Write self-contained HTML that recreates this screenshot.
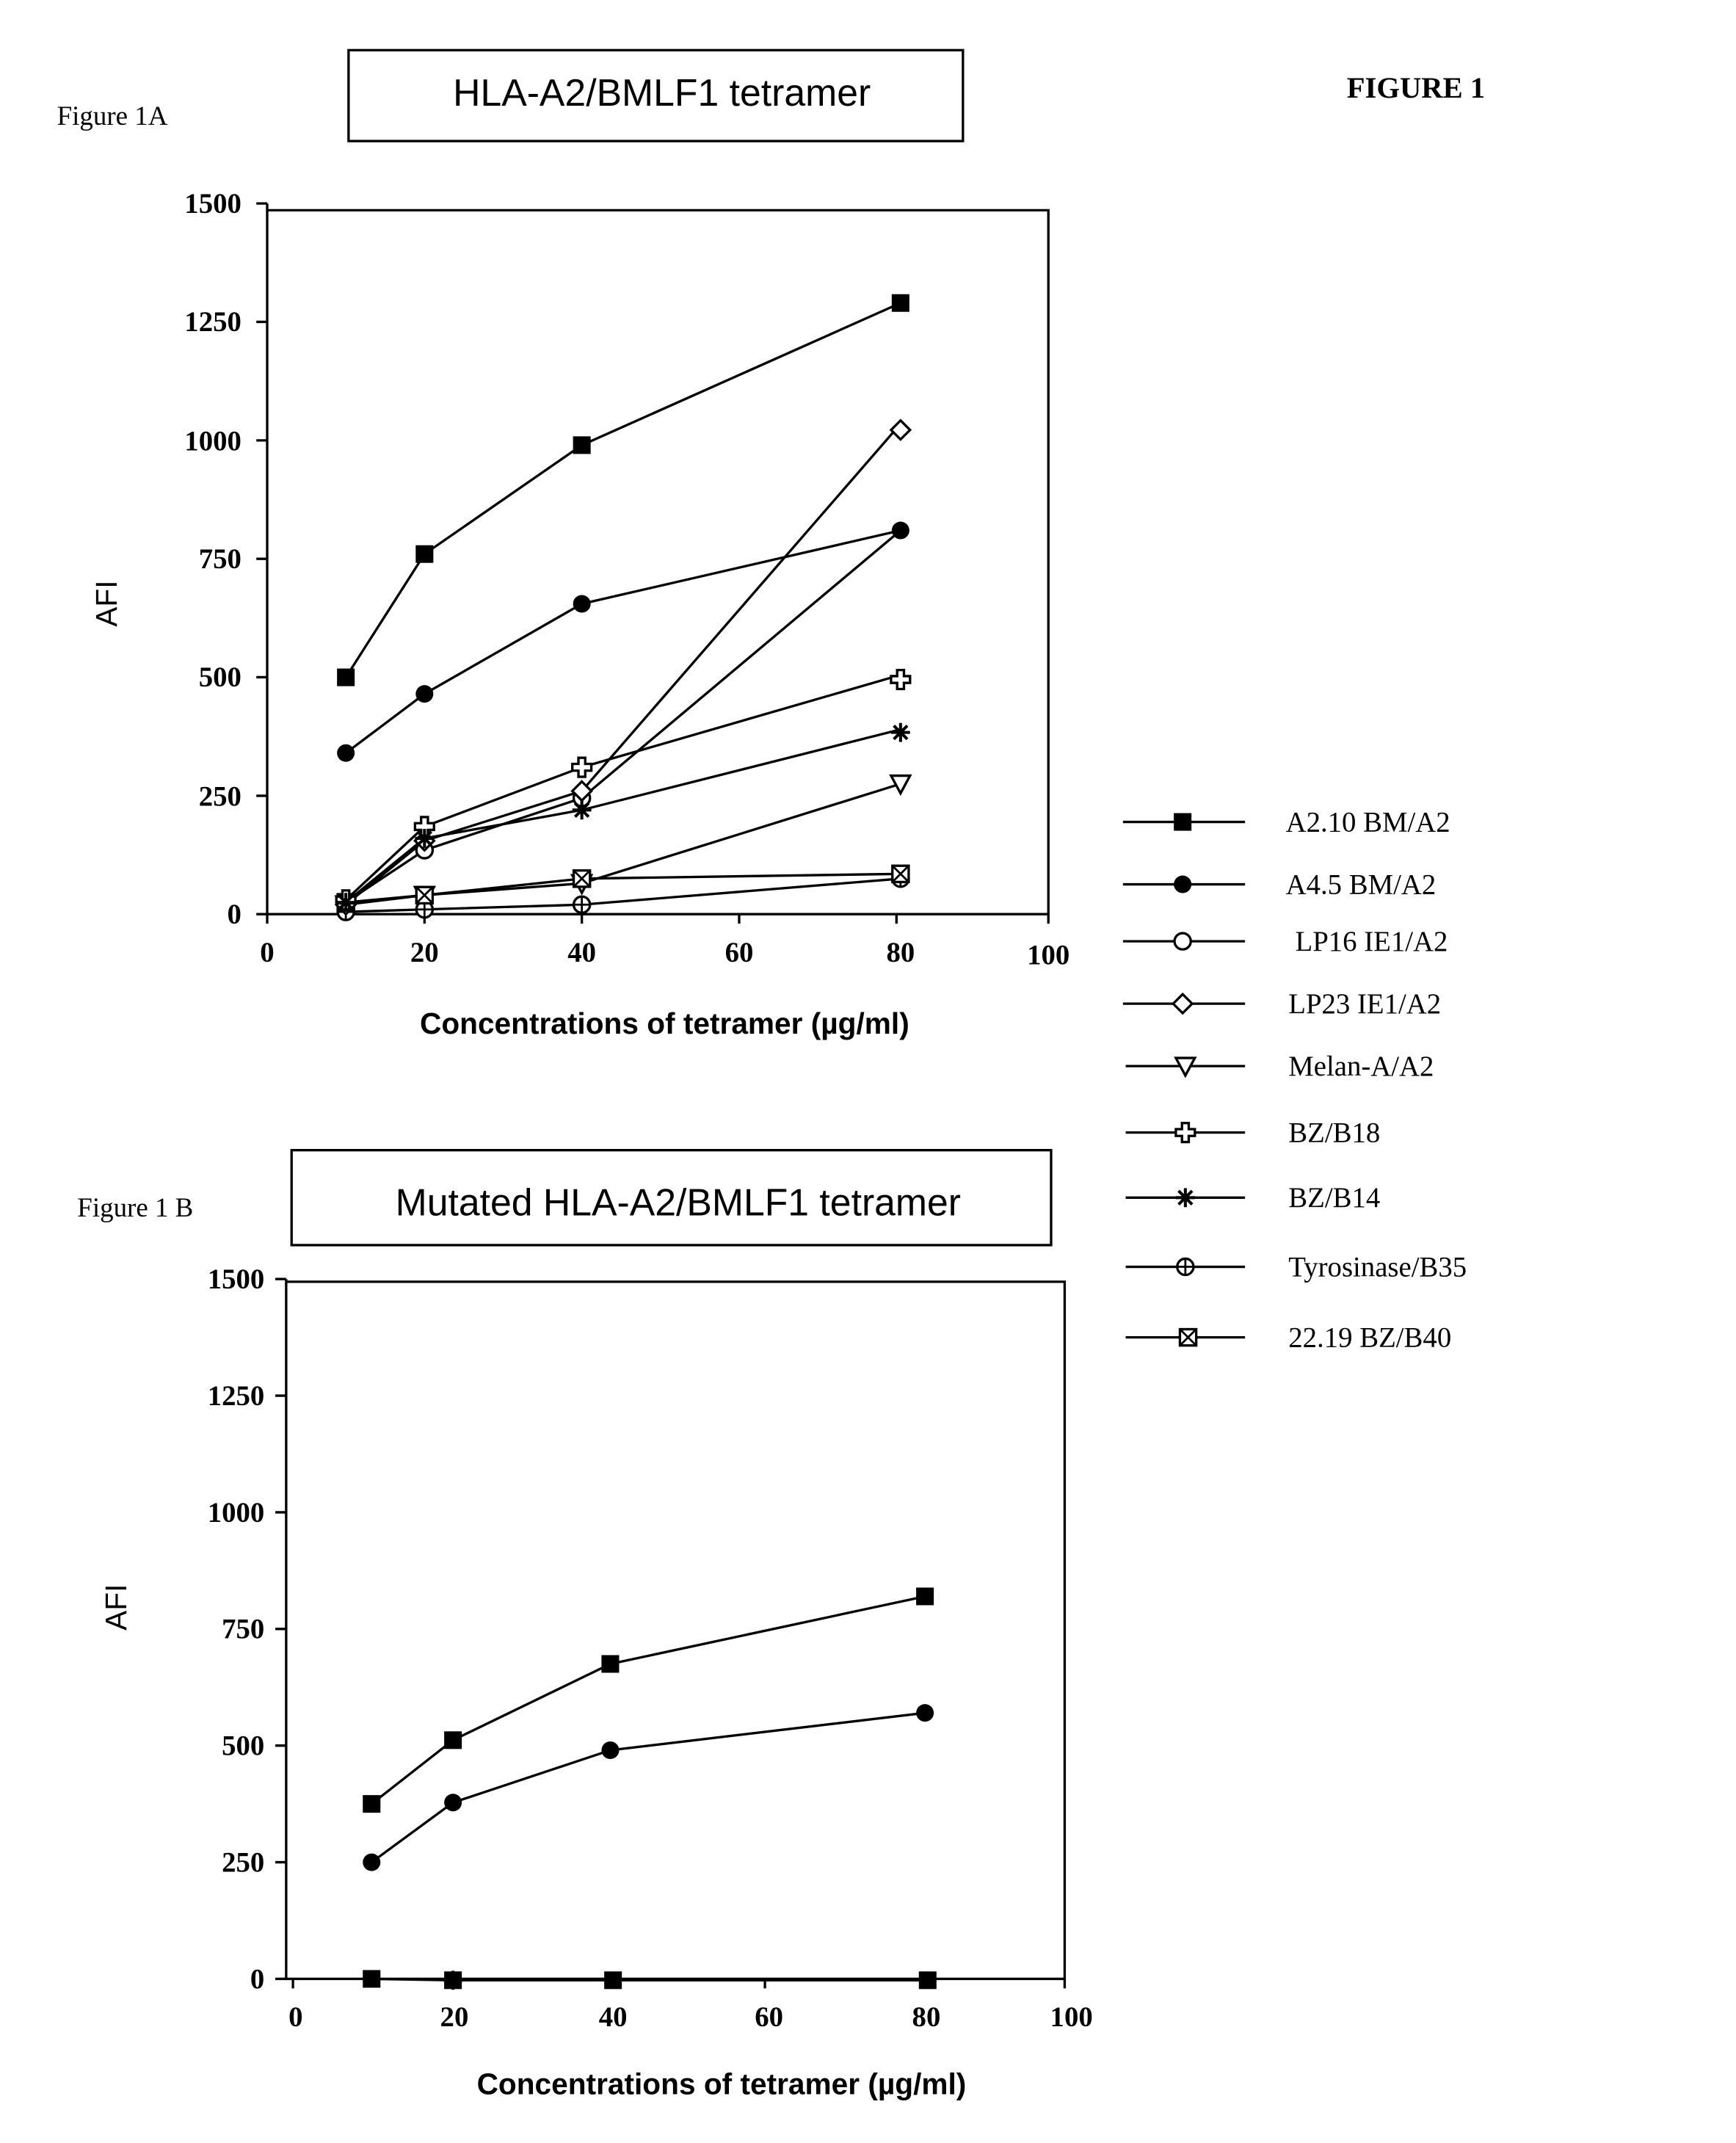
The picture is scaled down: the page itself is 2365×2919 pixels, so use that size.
<!DOCTYPE html>
<html><head><meta charset="utf-8"><style>html,body{margin:0;padding:0;background:#fff}svg{display:block}</style></head>
<body>
<svg width="2365" height="2919" viewBox="0 0 1280 1580" preserveAspectRatio="none" xmlns="http://www.w3.org/2000/svg">
<defs>
<g id="sq"><rect x="-6.5" y="-6.5" width="13" height="13" fill="#000"/></g>
<g id="ci"><circle r="6.5" fill="#000"/></g>
<g id="oc"><circle r="6" fill="#fff" stroke="#000" stroke-width="1.8"/></g>
<g id="di"><path d="M0,-7 L7,0 L0,7 L-7,0Z" fill="#fff" stroke="#000" stroke-width="1.8"/></g>
<g id="tr"><path d="M-7,-6 L7,-6 L0,7Z" fill="#fff" stroke="#000" stroke-width="1.8"/></g>
<g id="pl"><path d="M-2.5,-7 H2.5 V-2.5 H7 V2.5 H2.5 V7 H-2.5 V2.5 H-7 V-2.5 H-2.5Z" fill="#fff" stroke="#000" stroke-width="1.8"/></g>
<g id="st" stroke="#000" stroke-width="2.2"><path d="M-7,0H7M0,-7V7M-5,-5L5,5M-5,5L5,-5"/></g>
<g id="cp"><circle r="6" fill="#fff" stroke="#000" stroke-width="1.8"/><path d="M-6,0H6M0,-6V6" stroke="#000" stroke-width="1.5"/></g>
<g id="sx"><rect x="-6" y="-6" width="12" height="12" fill="#fff" stroke="#000" stroke-width="1.8"/><path d="M-6,-6L6,6M-6,6L6,-6" stroke="#000" stroke-width="1.5"/></g>
</defs>
<g font-family="Liberation Serif, serif" fill="#000">
<text x="42" y="92" font-size="20">Figure 1A</text>
<text x="993" y="72" font-size="22" font-weight="bold">FIGURE 1</text>
<text x="57" y="897" font-size="20">Figure 1 B</text>
</g>
<rect x="257" y="37" width="453" height="67" fill="none" stroke="#000" stroke-width="1.8"/>
<text x="488" y="78" font-size="28" text-anchor="middle" font-family="Liberation Sans, sans-serif">HLA-A2/BMLF1 tetramer</text>
<rect x="215" y="848" width="560" height="70" fill="none" stroke="#000" stroke-width="1.8"/>
<text x="500" y="896" font-size="28" text-anchor="middle" font-family="Liberation Sans, sans-serif">Mutated HLA-A2/BMLF1 tetramer</text>

<g stroke="#000" stroke-width="1.8" fill="none">
<path d="M197,150 V674 H773 V155 H197"/>
<path d="M189,150H197M189,237.3H197M189,324.7H197M189,412H197M189,499.3H197M189,586.7H197M189,674H197"/>
<path d="M197,674V681M313,674V681M429,674V681M545,674V681M661,674V681M773,674V681"/>
</g>
<g font-family="Liberation Serif, serif" font-size="21" font-weight="bold" text-anchor="end">
<text x="178" y="157">1500</text><text x="178" y="244">1250</text><text x="178" y="332">1000</text>
<text x="178" y="419">750</text><text x="178" y="506">500</text><text x="178" y="594">250</text><text x="178" y="681">0</text>
</g>
<g font-family="Liberation Serif, serif" font-size="21" font-weight="bold" text-anchor="middle">
<text x="197" y="709">0</text><text x="313" y="709">20</text><text x="429" y="709">40</text><text x="545" y="709">60</text><text x="664" y="709">80</text><text x="773" y="711">100</text>
</g>
<text x="490" y="762" font-size="22" font-weight="bold" text-anchor="middle" font-family="Liberation Sans, sans-serif">Concentrations of tetramer (µg/ml)</text>
<text transform="translate(86,445) rotate(-90)" font-size="22" text-anchor="middle" font-family="Liberation Sans, sans-serif">AFI</text>

<g stroke="#000" stroke-width="1.8" fill="none">
<polyline points="255,499.4 313,408.5 429,328.2 664,223.4"/>
<polyline points="255,555.2 313,511.6 429,445.2 664,391.1"/>
<polyline points="255,665.3 313,626.8 429,588.4 664,391.1"/>
<polyline points="255,667 313,619.9 429,583.2 664,312.5"/>
<polyline points="255,667 313,660 429,651.3 664,577.9"/>
<polyline points="255,663.5 313,609.4 429,565.7 664,497.6"/>
<polyline points="255,665.3 313,618.1 429,597.2 664,537.8"/>
<polyline points="255,672.3 313,670.5 429,667 664,647.8"/>
<polyline points="255,665.3 313,660 429,647.8 664,644.3"/>
</g>
<use href="#sq" x="255" y="499.4"/><use href="#sq" x="313" y="408.5"/><use href="#sq" x="429" y="328.2"/><use href="#sq" x="664" y="223.4"/>
<use href="#ci" x="255" y="555.2"/><use href="#ci" x="313" y="511.6"/><use href="#ci" x="429" y="445.2"/><use href="#ci" x="664" y="391.1"/>
<use href="#tr" x="255" y="667"/><use href="#tr" x="313" y="660"/><use href="#tr" x="429" y="651.3"/><use href="#tr" x="664" y="577.9"/>
<use href="#cp" x="255" y="672.3"/><use href="#cp" x="313" y="670.5"/><use href="#cp" x="429" y="667"/><use href="#cp" x="664" y="647.8"/>
<use href="#sx" x="255" y="665.3"/><use href="#sx" x="313" y="660"/><use href="#sx" x="429" y="647.8"/><use href="#sx" x="664" y="644.3"/>
<use href="#oc" x="255" y="665.3"/><use href="#oc" x="313" y="626.8"/><use href="#oc" x="429" y="588.4"/>
<use href="#di" x="255" y="667"/><use href="#di" x="313" y="619.9"/><use href="#di" x="429" y="583.2"/><use href="#di" x="664" y="317"/>
<use href="#pl" x="255" y="663.5"/><use href="#pl" x="313" y="609.4"/><use href="#pl" x="429" y="565.7"/><use href="#pl" x="664" y="501"/>
<use href="#st" x="255" y="665.3"/><use href="#st" x="313" y="618.1"/><use href="#st" x="429" y="597.2"/><use href="#st" x="664" y="540"/>

<g stroke="#000" stroke-width="1.8">
<path d="M828,606H918M828,652H918M828,694H918M828,740H918M830,786H918M830,835H918M830,883H918M830,934H918M830,986H918"/>
</g>
<use href="#sq" x="872" y="606"/><use href="#ci" x="872" y="652"/><use href="#oc" x="872" y="694"/><use href="#di" x="872" y="740"/>
<use href="#tr" x="874" y="786"/><use href="#pl" x="874" y="835"/><use href="#st" x="874" y="883"/><use href="#cp" x="874" y="934"/><use href="#sx" x="876" y="986"/>
<g font-family="Liberation Serif, serif" font-size="21">
<text x="948" y="613">A2.10 BM/A2</text><text x="948" y="659">A4.5 BM/A2</text><text x="955" y="701">LP16 IE1/A2</text>
<text x="950" y="747">LP23 IE1/A2</text><text x="950" y="793">Melan-A/A2</text><text x="950" y="842">BZ/B18</text>
<text x="950" y="890">BZ/B14</text><text x="950" y="941">Tyrosinase/B35</text><text x="950" y="993">22.19 BZ/B40</text>
</g>

<g stroke="#000" stroke-width="1.8" fill="none">
<path d="M211,943 V1459 H785 V945 H211"/>
<path d="M203,943H211M203,1029H211M203,1115H211M203,1201H211M203,1287H211M203,1373H211M203,1459H211"/>
<path d="M216,1459V1466M332,1459V1466M448,1459V1466M564,1459V1466M680,1459V1466M785,1459V1466"/>
</g>
<g font-family="Liberation Serif, serif" font-size="21" font-weight="bold" text-anchor="end">
<text x="195" y="950">1500</text><text x="195" y="1036">1250</text><text x="195" y="1122">1000</text>
<text x="195" y="1208">750</text><text x="195" y="1294">500</text><text x="195" y="1380">250</text><text x="195" y="1466">0</text>
</g>
<g font-family="Liberation Serif, serif" font-size="21" font-weight="bold" text-anchor="middle">
<text x="218" y="1494">0</text><text x="335" y="1494">20</text><text x="452" y="1494">40</text><text x="567" y="1494">60</text><text x="683" y="1494">80</text><text x="790" y="1494">100</text>
</g>
<text x="532" y="1544" font-size="22" font-weight="bold" text-anchor="middle" font-family="Liberation Sans, sans-serif">Concentrations of tetramer (µg/ml)</text>
<text transform="translate(93,1185) rotate(-90)" font-size="22" text-anchor="middle" font-family="Liberation Sans, sans-serif">AFI</text>
<g stroke="#000" stroke-width="1.8" fill="none">
<polyline points="274,1330 334,1283 450,1226.8 682,1177"/>
<polyline points="274,1373 334,1329 450,1290.4 682,1262.9"/>
<polyline points="274,1459 334,1460 450,1460 682,1460"/>
</g>
<use href="#sq" x="274" y="1330"/><use href="#sq" x="334" y="1283"/><use href="#sq" x="450" y="1226.8"/><use href="#sq" x="682" y="1177"/>
<use href="#ci" x="274" y="1373"/><use href="#ci" x="334" y="1329"/><use href="#ci" x="450" y="1290.4"/><use href="#ci" x="682" y="1262.9"/>
<use href="#sq" x="274" y="1459"/><use href="#st" x="334" y="1460"/><use href="#sq" x="334" y="1460"/><use href="#sq" x="452" y="1460"/><use href="#sq" x="684" y="1460"/>
</svg>
</body></html>
